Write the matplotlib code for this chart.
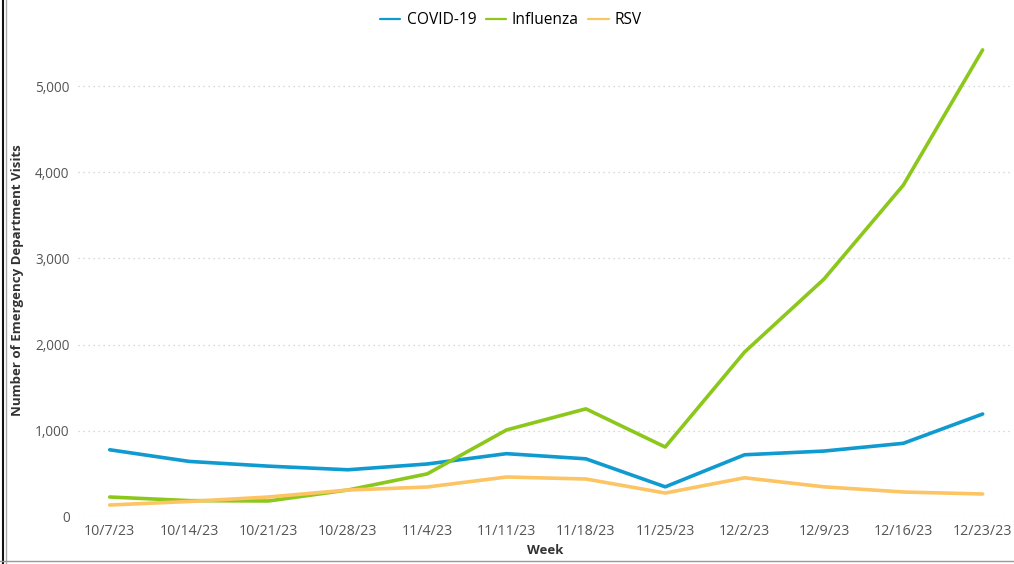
import matplotlib
matplotlib.use("Agg")
import matplotlib.pyplot as plt
from matplotlib.lines import Line2D
from matplotlib.ticker import FuncFormatter

plt.rcParams["font.family"] = ["Open Sans", "DejaVu Sans"]

# ── Data ──────────────────────────────────────────────────────────────────────
weeks = ["10/7/23", "10/14/23", "10/21/23", "10/28/23", "11/4/23", "11/11/23",
         "11/18/23", "11/25/23", "12/2/23", "12/9/23", "12/16/23", "12/23/23"]
covid = [780, 645, 590, 548, 615, 735, 675, 350, 722, 765, 855, 1195]
influenza = [232, 190, 186, 313, 500, 1010, 1255, 812, 1914, 2760, 3850, 5420]
rsv = [139, 180, 232, 313, 348, 464, 441, 278, 455, 350, 290, 267]

SERIES = [("COVID-19", covid, "#0f9ad0"),
          ("Influenza", influenza, "#8cc71b"),
          ("RSV", rsv, "#fdc463")]

fig = plt.figure(figsize=(10.14, 5.64), dpi=100)
ax = fig.add_axes([78 / 1014, 1 - 517 / 564, (1012 - 78) / 1014, (517 - 43) / 564])

x = range(len(weeks))
for name, vals, col in SERIES:
    ax.plot(x, vals, color=col, lw=2.6, label=name, solid_capstyle="round",
            solid_joinstyle="round")

ax.set_xlim(-0.4, len(weeks) - 1 + 0.37)
ax.set_ylim(0, 5500)
ax.set_yticks([0, 1000, 2000, 3000, 4000, 5000])
ax.yaxis.set_major_formatter(FuncFormatter(lambda v, _: f"{int(v):,}"))
ax.set_xticks(list(x))
ax.set_xticklabels(weeks)
ax.tick_params(axis="x", length=0, labelsize=10.3, colors="#555555", pad=5)
ax.tick_params(axis="y", length=0, labelsize=9.8, colors="#555555", pad=6)
ax.grid(axis="y", color="#cccccc", linestyle=(0, (1, 3)), lw=0.9)
for s in ax.spines.values():
    s.set_visible(False)

ax.set_xlabel("Week", fontsize=9.5, fontweight="bold", color="#333333", labelpad=4)
ax.set_ylabel("Number of Emergency Department Visits", fontsize=9.5,
              fontweight="bold", color="#333333", labelpad=8)

leg = fig.legend(loc="center", bbox_to_anchor=(511 / 1014, 1 - 20 / 564), ncol=3,
                 frameon=False, fontsize=11.2, handlelength=1.3, handletextpad=0.4,
                 columnspacing=0.6)
for h in leg.legend_handles:
    h.set_linewidth(1.6)

# frame edges of the screenshot
fig.add_artist(Line2D([3 / 1014, 3 / 1014], [0, 1], color="#111111", lw=1.5))
fig.add_artist(Line2D([5.5 / 1014, 5.5 / 1014], [0, 1], color="#aaaaaa", lw=1))
fig.add_artist(Line2D([0, 1], [1 - 561 / 564, 1 - 561 / 564], color="#999999", lw=1))

fig.savefig("out.png", dpi=100)
